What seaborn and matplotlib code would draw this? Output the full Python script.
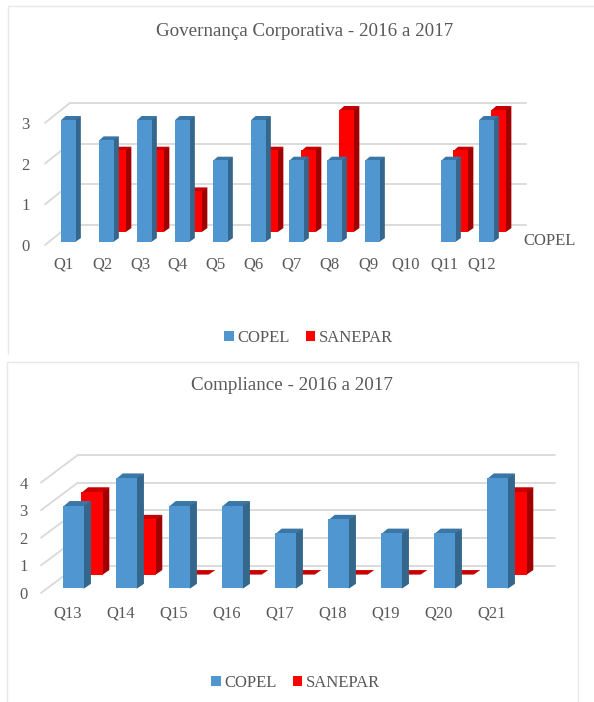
import numpy as np
import pandas as pd
import seaborn as sns
import matplotlib
matplotlib.use("Agg")
import matplotlib.pyplot as plt
from matplotlib.lines import Line2D
from matplotlib.patches import Patch, Polygon

# Survey answers per question, first panel (blank = no answer recorded)
gov_questions = ["Q1", "Q2", "Q3", "Q4", "Q5", "Q6", "Q7", "Q8", "Q9", "Q10", "Q11", "Q12"]
gov_copel = [3, 2.5, 3, 3, 2, 3, 2, 2, 2, np.nan, 2, 3]
gov_sanepar = [np.nan, 2, 2, 1, np.nan, 2, 2, 3, np.nan, np.nan, 2, 3]
gov_ticks = [0, 1, 2, 3]

# Survey answers per question, second panel
comp_questions = ["Q13", "Q14", "Q15", "Q16", "Q17", "Q18", "Q19", "Q20", "Q21"]
comp_copel = [3, 4, 3, 3, 2, 2.5, 2, 2, 4]
comp_sanepar = [3, 2, 0, 0, 0, 0, 0, 0, 3]
comp_ticks = [0, 1, 2, 3, 4]

W, H = 594, 702
TEXT = "#595959"
GRID = "#D9D9D9"
BLUE = ("#5097D2", "#3A77A6", "#35678C")    # front, top, side
RED = ("#FF0000", "#C80000", "#A00000")

sns.set_theme(style="white")
plt.rcParams["font.family"] = ["Liberation Serif", "DejaVu Serif"]

fig = plt.figure(figsize=(W / 100, H / 100), dpi=100, facecolor="white")


def plane(x0, y0, n, step, unit, top, dx=0.0, dy=0.0, z=1):
    """Transparent axes for one depth plane of the oblique 3D projection."""
    ax = fig.add_axes([(x0 + dx) / W, (H - y0 + dy) / H, n * step / W, top * unit / H], zorder=z)
    ax.patch.set_alpha(0)
    sns.despine(ax=ax, left=True, bottom=True)
    ax.set_xlim(-0.5, n - 0.5)
    ax.set_ylim(0, top)
    return ax


def columns(ax, cats, vals, colors, step, unit, depth):
    """Bars through seaborn, then top and side faces built from each bar."""
    df = pd.DataFrame({"q": cats, "v": vals}).dropna()
    sns.barplot(data=df, x="q", y="v", order=cats, color=colors[0], saturation=1,
                width=0.4, linewidth=0, ax=ax)
    ddx, ddy = depth[0] / step, depth[1] / unit
    # The faces start a pixel inside the front face, so no seam shows between them
    in_x, in_y = 1 / step, 1 / unit
    for bar in list(ax.patches):
        x, w, h = bar.get_x(), bar.get_width(), bar.get_height()
        low = max(0, h - in_y)
        bar.set_clip_on(False)
        bar.set_zorder(2)
        ax.add_patch(Polygon([(x, low), (x + w, low), (x + w + ddx, h + ddy), (x + ddx, h + ddy)],
                             closed=True, fc=colors[1], lw=0, clip_on=False, zorder=1))
        ax.add_patch(Polygon([(x + w - in_x, 0), (x + w, 0), (x + w + ddx, ddy), (x + w + ddx, h + ddy),
                              (x + w, h), (x + w - in_x, h)],
                             closed=True, fc=colors[2], lw=0, clip_on=False, zorder=1.5))
    ax.set_xlim(-0.5, len(cats) - 0.5)
    ax.set_axis_off()


def panel(title, title_xy, cats, copel, sanepar, ticks, x0, y0, step, unit, wall,
          bar_depth, xpad, ypad, legend_xy):
    n, top = len(cats), ticks[-1]
    wdx, wdy = wall

    # Back wall with its horizontal gridlines
    back = plane(x0, y0, n, step, unit, top, wdx, wdy, z=1)
    back.set_xticks([])
    back.set_yticks(ticks)
    back.tick_params(left=False, labelleft=False)
    back.grid(True, axis="y", color=GRID, lw=1.3)
    for line in back.get_ygridlines():
        line.set_clip_on(False)

    # Front plane carries the tick labels and the diagonal wall edges
    front = plane(x0, y0, n, step, unit, top, z=2)
    front.set_xticks(range(n), cats)
    front.set_yticks(ticks)
    front.tick_params(axis="x", length=0, pad=xpad, labelsize=12, labelcolor=TEXT)
    front.tick_params(axis="y", length=0, pad=ypad, labelsize=12, labelcolor=TEXT)
    for v in ticks:
        front.plot([-0.5, -0.5 + wdx / step], [v, v + wdy / unit], color=GRID, lw=1.3, clip_on=False)

    # SANEPAR stands further back than COPEL
    rear = plane(x0, y0, n, step, unit, top, wdx * 0.67, wdy * 0.67, z=3)
    columns(rear, cats, sanepar, RED, step, unit, bar_depth)
    fore = plane(x0, y0, n, step, unit, top, wdx * 0.17, wdy * 0.17, z=4)
    columns(fore, cats, copel, BLUE, step, unit, bar_depth)

    fig.text(title_xy[0] / W, 1 - title_xy[1] / H, title, ha="center", va="center",
             fontsize=13.7, color=TEXT)
    fig.legend(handles=[Patch(fc=BLUE[0], lw=0, label="COPEL"), Patch(fc=RED[0], lw=0, label="SANEPAR")],
               loc="center", bbox_to_anchor=(legend_xy[0] / W, 1 - legend_xy[1] / H), ncol=2, frameon=False,
               fontsize=12, labelcolor=TEXT, handlelength=0.58, handleheight=0.58,
               handletextpad=0.2, columnspacing=0.95, borderpad=0, borderaxespad=0)


# Light chart frames
for xs, ys in [((8, 8), (6, 354)), ((8, 594), (6, 6)),
               ((7, 7), (362, 702)), ((7, 578), (362, 362)), ((578, 578), (362, 702))]:
    fig.add_artist(Line2D([x / W for x in xs], [1 - y / H for y in ys], color="#E8E8E8", lw=1))

panel("Governança Corporativa - 2016 a 2017", (305, 31), gov_questions, gov_copel, gov_sanepar,
      gov_ticks, x0=45, y0=245, step=38, unit=40.7, wall=(25, 20), bar_depth=(5, 3.5),
      xpad=8, ypad=11, legend_xy=(308.5, 338))
panel("Compliance - 2016 a 2017", (292, 385), comp_questions, comp_copel, comp_sanepar,
      comp_ticks, x0=41, y0=593, step=53, unit=27.6, wall=(36.7, 27.5), bar_depth=(6.6, 4.5),
      xpad=9, ypad=9.5, legend_xy=(295.5, 683))

# Depth-axis label of the first chart
fig.text(550 / W, 1 - 241 / H, "COPEL", ha="center", va="center", fontsize=12, color=TEXT)

fig.savefig("out.png", dpi=100)
